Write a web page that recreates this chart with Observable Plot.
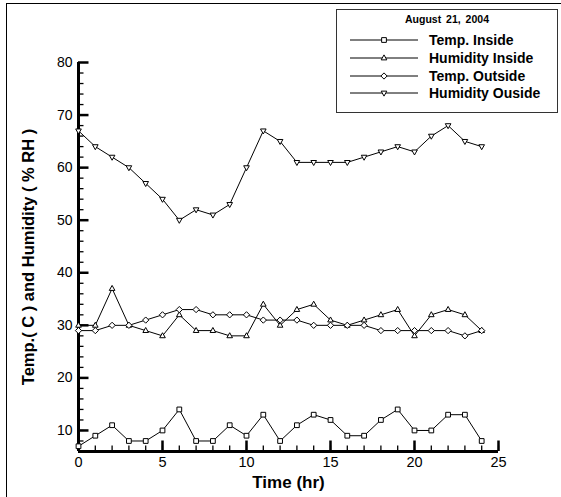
<!DOCTYPE html>
<html>
<head>
<meta charset="utf-8">
<script src="https://cdn.jsdelivr.net/npm/d3@7"></script>
<script src="https://cdn.jsdelivr.net/npm/@observablehq/plot@0.6"></script>
<style>
  html, body { margin: 0; padding: 0; background: #fff; }
  #wrap { position: relative; width: 561px; height: 497px; overflow: hidden; font-family: "Liberation Sans", Arial, sans-serif; }
  #frame { position: absolute; left: 6px; top: 3px; width: 600px; height: 600px; border-left: 1px solid #000; border-top: 1px solid #000; box-sizing: border-box; }
  #legend { position: absolute; left: 336px; top: 9px; width: 222px; height: 104px; border: 1.5px solid #333; box-sizing: border-box; background: #fff; }
  #legend .title { position: absolute; left: 0; width: 100%; top: 3px; text-align: center; font-weight: bold; font-size: 10.5px; word-spacing: 2px; }
  #legend .row { position: absolute; left: 12px; height: 18px; display: flex; align-items: center; }
  #legend .row span { font-weight: bold; font-size: 14px; margin-left: 10px; white-space: nowrap; }
  #chart { position: absolute; left: 0; top: 0; }
</style>
</head>
<body>
<div id="wrap">
  <div id="frame"></div>
  <div id="chart"></div>
  <div id="legend"><div class="title"></div></div>
</div>
<script>
// ---- data ----
const hours = [0,1,2,3,4,5,6,7,8,9,10,11,12,13,14,15,16,17,18,19,20,21,22,23,24];
const tempInside     = [7,9,11,8,8,10,14,8,8,11,9,13,8,11,13,12,9,9,12,14,10,10,13,13,8];
const humidityInside = [30,30,37,30,29,28,32,29,29,28,28,34,30,33,34,31,30,31,32,33,28,32,33,32,29];
const tempOutside    = [29,29,30,30,31,32,33,33,32,32,32,31,31,31,30,30,30,30,29,29,29,29,29,28,29];
const humidityOutside= [67,64,62,60,57,54,50,52,51,53,60,67,65,61,61,61,61,62,63,64,63,66,68,65,64];
const seriesNames = ["Temp. Inside", "Humidity Inside", "Temp. Outside", "Humidity Ouside"];
const legendTitle = "August 21, 2004";
const xMajor = [0,5,10,15,20,25];
const xMinor = d3.range(0, 26, 1);
const yMajor = [10,20,30,40,50,60,70,80];
const yMinor = d3.range(8, 80, 2);

// ---- layout ----
const W = 561, H = 497, mT = 62, mB = 46, mL = 78, mR = 63;
const xDom = [0, 25], yDom = [6, 80];
const yPerPx = (yDom[1] - yDom[0]) / (H - mT - mB);
const xPerPx = (xDom[1] - xDom[0]) / (W - mL - mR);

// ---- symbols ----
const sq = {draw(ctx, size){ const r = Math.sqrt(size/Math.PI)*0.95; ctx.rect(-r,-r,2*r,2*r); }};
const triUp = {draw(ctx, size){ const r = Math.sqrt(size/Math.PI)*1.25; ctx.moveTo(0,-r); ctx.lineTo(r*0.9, r*0.6); ctx.lineTo(-r*0.9, r*0.6); ctx.closePath(); }};
const dia = {draw(ctx, size){ const r = Math.sqrt(size/Math.PI)*1.25; ctx.moveTo(0,-r); ctx.lineTo(r,0); ctx.lineTo(0,r); ctx.lineTo(-r,0); ctx.closePath(); }};
const triDown = {draw(ctx, size){ const r = Math.sqrt(size/Math.PI)*1.25; ctx.moveTo(0,r); ctx.lineTo(r*0.9,-r*0.6); ctx.lineTo(-r*0.9,-r*0.6); ctx.closePath(); }};
const symbols = [sq, triUp, dia, triDown];
const seriesValues = [tempInside, humidityInside, tempOutside, humidityOutside];

const data = [];
seriesValues.forEach((vals, i) => vals.forEach((v, j) => data.push({series: seriesNames[i], hour: hours[j], value: v})));

const R = 2.5;
const marks = [
  // inward ticks
  Plot.ruleX(xMinor, {y1: yDom[0], y2: yDom[0] + 5.5 * yPerPx, stroke: "#000", strokeWidth: 1.3}),
  Plot.ruleX(xMajor, {y1: yDom[0], y2: yDom[0] + 10.5 * yPerPx, stroke: "#000", strokeWidth: 2.5}),
  Plot.ruleY(yMinor, {x1: xDom[0], x2: xDom[0] + 5.5 * xPerPx, stroke: "#000", strokeWidth: 1.3}),
  Plot.ruleY(yMajor, {x1: xDom[0], x2: xDom[0] + 10.5 * xPerPx, stroke: "#000", strokeWidth: 2.5}),
  // axis lines
  Plot.ruleY([yDom[0]], {x1: xDom[0], x2: xDom[1], strokeWidth: 3, stroke: "#000"}),
  Plot.ruleX([xDom[0]], {y1: yDom[0], y2: yDom[1], strokeWidth: 3, stroke: "#000"}),
  // labels
  Plot.axisX(xMajor, {anchor: "bottom", tickSize: 0, tickPadding: 5, fontSize: 14.5, label: null}),
  Plot.axisY(yMajor, {anchor: "left", tickSize: 0, tickPadding: 6, fontSize: 14, label: null}),
];
seriesNames.forEach((name, i) => {
  const d = data.filter(r => r.series === name);
  marks.push(Plot.line(d, {x: "hour", y: "value", stroke: "#000", strokeWidth: 1}));
  marks.push(Plot.dot(d, {x: "hour", y: "value", symbol: () => symbols[i], r: R, fill: "#fff", stroke: "#000", strokeWidth: 1}));
});

const chart = Plot.plot({
  width: W, height: H,
  marginTop: mT, marginBottom: mB, marginLeft: mL, marginRight: mR,
  style: {fontFamily: '"Liberation Sans", Arial, sans-serif', color: "#000", background: "transparent", overflow: "visible"},
  x: {domain: xDom, axis: null},
  y: {domain: yDom, axis: null},
  symbol: {type: "identity"},
  marks: [
    ...marks,
    Plot.text(["Time (hr)"], {frameAnchor: "bottom", dy: 36, fontSize: 17, fontWeight: "bold", text: d => d}),
    Plot.text(["Temp.( C ) and Humidity ( % RH )"], {frameAnchor: "left", textAnchor: "middle", dx: -50, rotate: -90, fontSize: 16.5, fontWeight: "bold", text: d => d})
  ]
});
document.getElementById("chart").appendChild(chart);

// ---- legend ----
const legend = document.getElementById("legend");
legend.querySelector(".title").textContent = legendTitle;
const rowTops = [21, 39, 57, 74];
seriesNames.forEach((name, i) => {
  const row = document.createElement("div");
  row.className = "row";
  row.style.top = rowTops[i] + "px";
  const p = d3.path();
  symbols[i].draw(p, R * R * Math.PI);
  row.innerHTML = `<svg width="70" height="14" viewBox="-35 -7 70 14"><line x1="-34" x2="34" y1="0" y2="0" stroke="#000" stroke-width="1"/><path d="${p.toString()}" fill="#fff" stroke="#000" stroke-width="1"/></svg><span>${name}</span>`;
  legend.appendChild(row);
});
</script>
</body>
</html>
